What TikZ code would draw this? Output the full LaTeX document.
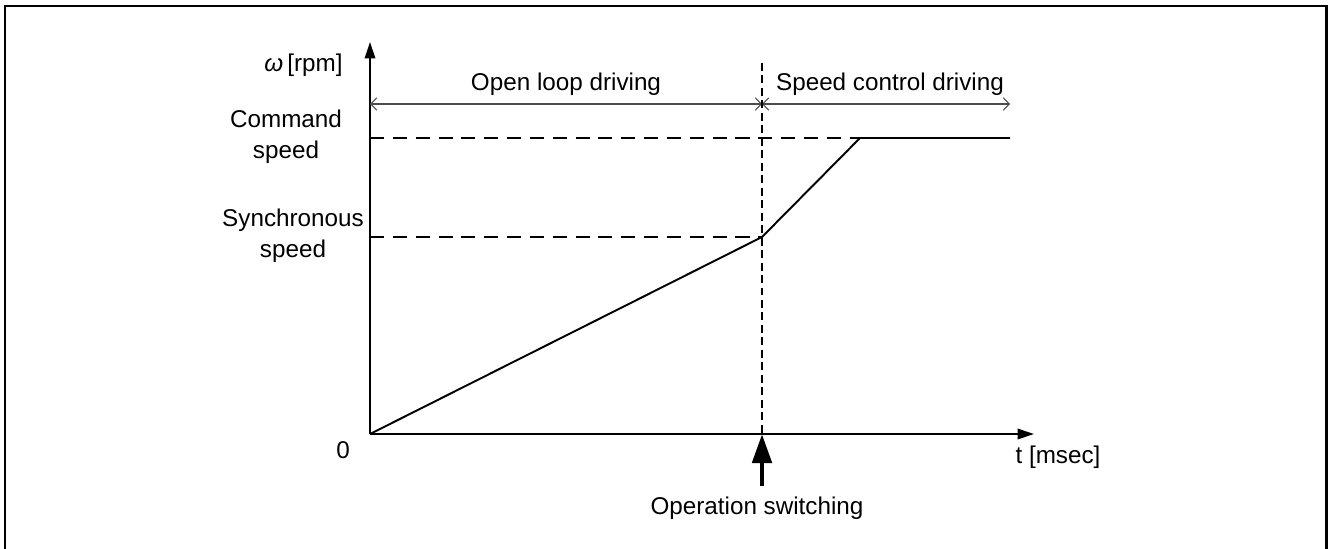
\documentclass[tikz,border=0pt]{standalone}
\usepackage{fontspec}
\setmainfont{Liberation Sans}
\usepackage{tikz}
\usetikzlibrary{
	arrows.meta,
}

\tikzset{
	axis/.style={line width=1.1pt, -{Triangle[length=0.33cm,width=0.21cm]}},
	span/.style={line width=0.6pt, draw=black!70, {Straight Barb[length=0.12cm,width=0.25cm]}-{Straight Barb[length=0.12cm,width=0.25cm]}},
	level/.style={line width=1.1pt, dash pattern=on 8pt off 5pt},
	switchline/.style={line width=1.1pt, dash pattern=on 4.5pt off 2.6pt},
	speed/.style={line width=1.1pt},
	lbl/.style={inner sep=0pt, font=\fontsize{13.8}{17.5}\selectfont, align=center},
}

\begin{document}
\begin{tikzpicture}[x=0.02cm, y=-0.02cm]
	\useasboundingbox (0,0) rectangle (1328,548);
	\draw[line width=1.7pt] (5,560) -- (5,6) -- (1326,6) -- (1326,560);

	% axes and reference points
	\coordinate (O) at (370,434);
	\coordinate (ytip) at (370,42);
	\coordinate (xtip) at (1034,434);
	\coordinate (swtop) at (762,63);
	\coordinate (swbot) at (762,434);
	\coordinate (sync) at (762,237);
	\coordinate (cmd) at (860,138);
	\coordinate (cmdend) at (1010,138);
	\coordinate (cmdstart) at (370,138);
	\coordinate (syncstart) at (370,237);
	\coordinate (spanL) at (370,104);
	\coordinate (spanM) at (762,104);
	\coordinate (spanR) at (1010,104);
	\coordinate (arrbot) at (762,486);

	\draw[axis] (O) -- (ytip);
	\draw[axis] (O) -- (xtip);

	% driving phases
	\draw[span] (spanL) -- (spanM);
	\draw[span] (spanM) -- (spanR);
	\draw[switchline] (swtop) -- (swbot);

	% speed levels
	\draw[level] (cmdstart) -- (cmd);
	\draw[level] (syncstart) -- (sync);

	% speed profile
	\draw[speed] (O) -- (sync) -- (cmd) -- (cmdend);

	% switching instant
	\draw[line width=2.8pt, -{Triangle[length=0.58cm,width=0.38cm]}] (arrbot) -- (swbot);

	\node[lbl, anchor=east] (wlab) at (343,65) {\textit{ω}\,[rpm]};
	\node[lbl] (cmdlab) at (286,137) {Command\\speed};
	\node[lbl] (synclab) at (293,236) {Synchronous\\speed};
	\node[lbl] (openlab) at (566,84) {Open loop driving};
	\node[lbl] (spdlab) at (890,84) {Speed control driving};
	\node[lbl] (zero) at (343,450) {0};
	\node[lbl] (tlab) at (1058,457) {t [msec]};
	\node[lbl] (oplab) at (757,508) {Operation switching};
\end{tikzpicture}
\end{document}
